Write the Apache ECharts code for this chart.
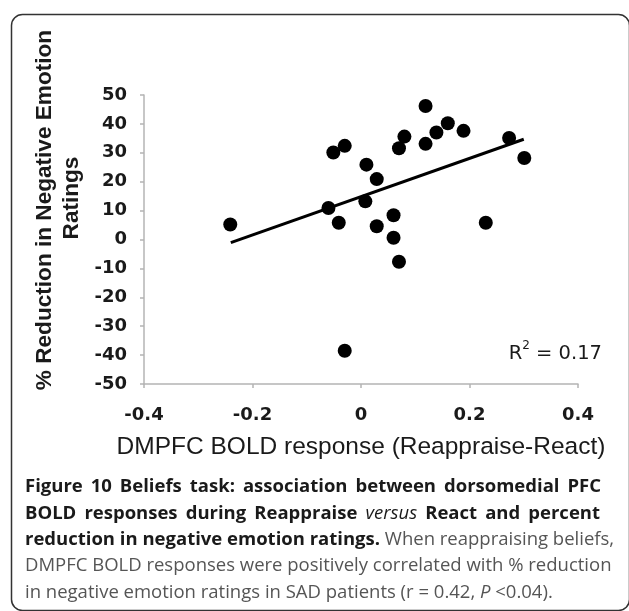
<!DOCTYPE html>
<html>
<head>
<meta charset="utf-8">
<script src="https://cdn.jsdelivr.net/npm/echarts@6/dist/echarts.min.js"></script>
<style>
html,body{margin:0;padding:0;background:#fff;}
#c{width:629px;height:611px;}
</style>
</head>
<body>
<div id="c"></div>
<script>
// Data
const xValues = [-0.241, -0.060, -0.051, -0.041, -0.030, -0.030, 0.008, 0.010, 0.029, 0.029, 0.060, 0.060, 0.070, 0.070, 0.080, 0.119, 0.119, 0.139, 0.160, 0.189, 0.230, 0.273, 0.301];
const yValues = [5.2, 10.9, 30.1, 5.8, 32.4, -38.5, 13.2, 25.9, 20.9, 4.6, 8.4, 0.6, 31.6, -7.7, 35.6, 46.2, 33.1, 37.0, 40.2, 37.6, 5.8, 35.1, 28.2];
const trendX = [-0.240, 0.300];
const trendY = [-1.1, 34.7];
const xAxisRange = [-0.4, 0.4, 0.2];
const yAxisRange = [-50, 50, 10];
const xTitle = 'DMPFC BOLD response (Reappraise-React)';
const yTitleLines = ['% Reduction in Negative Emotion', 'Ratings'];
const captionLines = [
  [['b', 'Figure 10 Beliefs task: association between dorsomedial PFC']],
  [['b', 'BOLD responses during Reappraise '], ['bi', 'versus'], ['b', ' React and percent']],
  [['b', 'reduction in negative emotion ratings.'], ['r', ' When reappraising beliefs,']],
  [['r', 'DMPFC BOLD responses were positively correlated with % reduction']],
  [['r', 'in negative emotion ratings in SAD patients (r = 0.42, '], ['ri', 'P'], ['r', ' <0.04).']]
];

const points = xValues.map((x, i) => [x, yValues[i]]);
const trend = trendX.map((x, i) => [x, trendY[i]]);

// caption styling / layout
const capFonts = {
  b: 'bold 18.5px "Open Sans"',
  bi: 'italic 18.5px "Open Sans"',
  r: '18.5px "Open Sans"',
  ri: 'italic 18.5px "Open Sans"'
};
const capColors = {b: '#1a1a1a', bi: '#1a1a1a', r: '#555', ri: '#555'};
const capLeft = 25;
const capRight = [601, 600, null, null, null];
const lh = 26.3;

const measureCtx = document.createElement('canvas').getContext('2d');
function measure(font, t) { measureCtx.font = font; return measureCtx.measureText(t).width; }

const rich = {};
Object.keys(capFonts).forEach(k => { rich[k] = {font: capFonts[k], fill: capColors[k], lineHeight: lh}; });
const capLineTexts = captionLines.map((segs, li) => {
  const toks = [];
  segs.forEach(([st, txt]) => {
    txt.split(/( )/).forEach(p => { if (p === '') return; toks.push({st, t: p, sp: p === ' '}); });
  });
  const target = capRight[li];
  if (target == null) {
    return toks.map(tk => '{' + tk.st + '|' + tk.t + '}').join('');
  }
  let wordsW = 0, nsp = 0;
  toks.forEach(tk => { if (tk.sp) nsp++; else wordsW += measure(capFonts[tk.st], tk.t); });
  const spW = (target - capLeft - wordsW) / nsp;
  const key = 'sp' + li;
  rich[key] = {width: spW, font: capFonts.r, lineHeight: lh};
  return toks.map(tk => tk.sp ? '{' + key + '| }' : '{' + tk.st + '|' + tk.t + '}').join('');
});

const chart = echarts.init(document.getElementById('c'), null, {renderer: 'canvas'});
const axisGray = '#b4b4b4';
const tickFont = {fontFamily: 'DejaVu Sans', fontWeight: 'bold', fontSize: 18, color: '#1a1a1a'};

chart.setOption({
  backgroundColor: '#fff',
  animation: false,
  grid: {left: 144, right: 51, top: 95, bottom: 227, containLabel: false},
  xAxis: {
    type: 'value', min: xAxisRange[0], max: xAxisRange[1], interval: xAxisRange[2],
    axisLine: {show: true, onZero: false, lineStyle: {color: axisGray, width: 1.5}},
    axisTick: {show: true, inside: false, length: 4, lineStyle: {color: axisGray, width: 1.5}},
    splitLine: {show: false},
    axisLabel: Object.assign({margin: 22}, tickFont),
    name: xTitle, nameLocation: 'middle', nameGap: 51,
    nameTextStyle: {fontFamily: 'Liberation Sans', fontSize: 24.5, color: '#1a1a1a'}
  },
  yAxis: {
    type: 'value', min: yAxisRange[0], max: yAxisRange[1], interval: yAxisRange[2],
    axisLine: {show: true, onZero: false, lineStyle: {color: axisGray, width: 1.5}},
    axisTick: {show: true, inside: false, length: 4, lineStyle: {color: axisGray, width: 1.5}},
    splitLine: {show: false},
    axisLabel: Object.assign({margin: 17}, tickFont)
  },
  series: [
    {
      type: 'scatter', data: points, symbol: 'circle', symbolSize: 14,
      itemStyle: {color: '#000', opacity: 1}, z: 3
    },
    {
      type: 'line', data: trend, symbol: 'none', showSymbol: false,
      lineStyle: {color: '#000', width: 3}, z: 2
    }
  ],
  graphic: [
    {
      type: 'rect', left: 9, top: 12, silent: true,
      shape: {width: 618, height: 596, r: 11},
      style: {fill: 'none', stroke: '#333', lineWidth: 1.5}
    },
    {
      type: 'text', x: 45, y: 210, rotation: Math.PI / 2,
      style: {text: yTitleLines[0], font: 'bold 22.6px "Liberation Sans"', fill: '#1a1a1a', align: 'center', verticalAlign: 'middle'}
    },
    {
      type: 'text', x: 72, y: 198, rotation: Math.PI / 2,
      style: {text: yTitleLines[1], font: 'bold 22.6px "Liberation Sans"', fill: '#1a1a1a', align: 'center', verticalAlign: 'middle'}
    },
    {
      type: 'text', x: 602, y: 352,
      style: {
        text: '{n|R}{s|2}{n| = 0.17}',
        align: 'right', verticalAlign: 'middle',
        rich: {
          n: {font: '19.5px "DejaVu Sans"', fill: '#1a1a1a', verticalAlign: 'bottom', lineHeight: 24},
          s: {font: '12px "DejaVu Sans"', fill: '#1a1a1a', verticalAlign: 'top', lineHeight: 24, padding: [0, 0, 8, 0]}
        }
      }
    },
    {
      type: 'text', x: capLeft, y: 474,
      style: {
        text: capLineTexts.join('\n'),
        align: 'left', verticalAlign: 'top', lineHeight: lh,
        rich: rich
      }
    }
  ]
});
</script>
</body>
</html>
